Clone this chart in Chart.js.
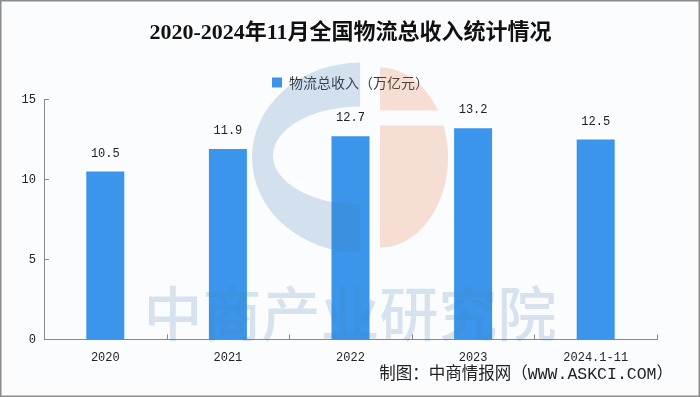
<!DOCTYPE html>
<html>
<head>
<meta charset="utf-8">
<script src="https://cdn.jsdelivr.net/npm/chart.js@4.4.1/dist/chart.umd.min.js"></script>
<style>
  html, body { margin: 0; padding: 0; background: #fbfcfe; }
  #wrap { width: 700px; height: 397px; position: relative; }
  canvas { display: block; }
</style>
</head>
<body>
<div id="wrap"><canvas id="c" width="700" height="397"></canvas></div>
<script>
const titleText = '2020-2024年11月全国物流总收入统计情况';
const seriesName = '物流总收入（万亿元）';
const sourceText = '制图：中商情报网（WWW.ASKCI.COM）';
const watermarkText = '中商产业研究院';
const categories = ['2020', '2021', '2022', '2023', '2024.1-11'];
const revenue = [10.5, 11.9, 12.7, 13.2, 12.5];
const yTicks = [0, 5, 10, 15];

const monoFont = '"Liberation Mono", "Noto Sans CJK SC", monospace';
const cjkFont = '"Noto Sans CJK SC", sans-serif';

const decorPlugin = {
  id: 'decor',
  beforeDraw(chart) {
    const ctx = chart.ctx;
    ctx.save();
    ctx.fillStyle = '#fbfcfe';
    ctx.fillRect(0, 0, chart.width, chart.height);
    ctx.restore();
  },
  afterDatasetsDraw(chart) {
    const ctx = chart.ctx;
    const W = chart.width, H = chart.height;
    // watermark logo (decoration, placed relative to canvas size)
    ctx.save();
    const cx = W * 0.5286, cy = H * 0.397;
    ctx.beginPath();
    ctx.ellipse(cx - 10, cy, 108, 95, 0, Math.PI / 2, Math.PI * 1.5, false);
    ctx.lineTo(cx - 10, cy - 49);
    ctx.ellipse(cx - 10, cy - 2, 87, 49, 0, Math.PI * 1.5, Math.PI / 2, true);
    ctx.closePath();
    ctx.fillStyle = 'rgba(70,130,180,0.22)';
    ctx.fill();
    ctx.beginPath();
    ctx.rect(cx + 10, cy - 100, 80, 53);
    ctx.rect(cx + 10, cy - 32, 80, 130);
    ctx.clip();
    ctx.beginPath();
    ctx.ellipse(cx + 10, cy, 68, 90, 0, -Math.PI / 2, Math.PI / 2, false);
    ctx.closePath();
    ctx.fillStyle = 'rgba(232,120,70,0.22)';
    ctx.fill();
    ctx.restore();
    // watermark text
    ctx.save();
    ctx.font = '500 59px ' + cjkFont;
    ctx.fillStyle = 'rgba(70,130,180,0.2)';
    ctx.textAlign = 'center';
    ctx.textBaseline = 'middle';
    ctx.fillText(watermarkText, W * 0.5, H * 0.79);
    ctx.restore();

    // value labels above bars
    const meta = chart.getDatasetMeta(0);
    ctx.save();
    ctx.font = '12px ' + monoFont;
    ctx.fillStyle = '#222';
    ctx.textAlign = 'center';
    ctx.textBaseline = 'bottom';
    meta.data.forEach((bar, i) => {
      ctx.fillText(revenue[i].toFixed(1), bar.x, bar.y - 12);
    });
    ctx.restore();

    // inward ticks
    const xs = chart.scales.x, ys = chart.scales.y;
    const area = chart.chartArea;
    ctx.save();
    ctx.strokeStyle = '#888';
    ctx.lineWidth = 1;
    ctx.beginPath();
    ys.ticks.forEach(t => {
      if (t.value === 0) return;
      const y = Math.round(ys.getPixelForValue(t.value)) + 0.5;
      ctx.moveTo(area.left, y);
      ctx.lineTo(area.left + 5, y);
    });
    for (let i = 1; i <= categories.length; i++) {
      const x = Math.round(xs.getPixelForValue(i - 0.5)) + 0.5;
      ctx.moveTo(x, area.bottom);
      ctx.lineTo(x, area.bottom - 5);
    }
    ctx.stroke();
    ctx.restore();
  },
  afterDraw(chart) {
    const ctx = chart.ctx;
    ctx.save();
    ctx.strokeStyle = '#8c8c8c';
    ctx.lineWidth = 1.5;
    ctx.strokeRect(0.75, 0.75, chart.width - 1.5, chart.height - 1.5);
    ctx.restore();
  }
};

new Chart(document.getElementById('c'), {
  type: 'bar',
  data: {
    labels: categories,
    datasets: [{
      label: seriesName,
      data: revenue,
      backgroundColor: '#3a95eb',
      borderWidth: 0,
      barPercentage: 0.31,
      categoryPercentage: 1.0
    }]
  },
  options: {
    responsive: false,
    devicePixelRatio: 1,
    animation: false,
    layout: { padding: { left: 14, right: 27, top: 0, bottom: 0 } },
    plugins: {
      title: {
        display: true,
        fullSize: false,
        text: titleText,
        color: '#111',
        font: { family: '"Liberation Serif", "Noto Sans CJK SC", serif', size: 22, weight: 'bold' },
        padding: { top: 20, bottom: 21 }
      },
      legend: {
        display: true,
        fullSize: false,
        position: 'top',
        labels: {
          color: '#333',
          boxWidth: 10,
          boxHeight: 10,
          padding: 8,
          font: { family: cjkFont, size: 14 }
        }
      },
      subtitle: {
        display: true,
        position: 'bottom',
        align: 'end',
        text: sourceText,
        color: '#222',
        font: { family: monoFont, size: 16.5 },
        padding: { top: 0, bottom: 12.8 }
      },
      tooltip: { enabled: false }
    },
    scales: {
      x: {
        grid: { display: false, drawTicks: false, tickLength: 0 },
        border: { display: true, color: '#888', width: 1 },
        afterFit: (scale) => { scale.height = 25; },
        ticks: { color: '#222', font: { family: monoFont, size: 12 }, padding: 11, maxRotation: 0, autoSkip: false }
      },
      y: {
        min: 0,
        max: 15,
        grid: { display: false, drawTicks: false, tickLength: 0 },
        border: { display: true, color: '#888', width: 1 },
        afterBuildTicks: (scale) => { scale.ticks = yTicks.map(v => ({ value: v })); },
        afterFit: (scale) => { scale.width = 30; },
        ticks: { color: '#222', font: { family: monoFont, size: 12 }, padding: 8 }
      },
      yRight: {
        position: 'right',
        display: true,
        min: 0,
        max: 15,
        grid: { display: false, drawTicks: false, tickLength: 0 },
        border: { display: false },
        ticks: { display: false },
        afterFit: (scale) => { scale.width = 16; }
      }
    }
  },
  plugins: [decorPlugin]
});
</script>
</body>
</html>
